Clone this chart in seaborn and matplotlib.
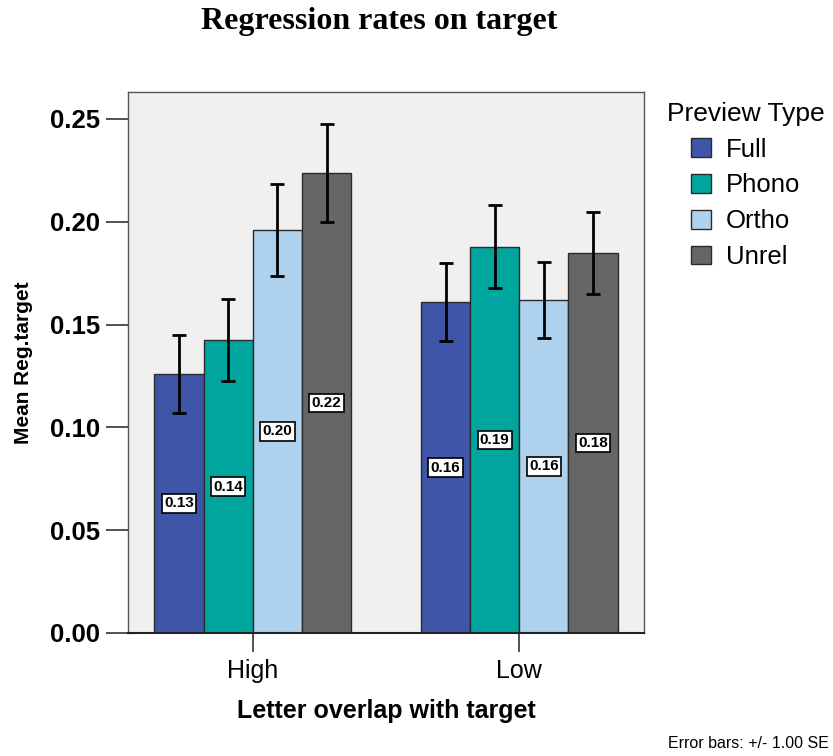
import matplotlib
matplotlib.use("Agg")
import matplotlib.pyplot as plt
import numpy as np
import pandas as pd
import seaborn as sns

overlap = ["High", "Low"]
preview = ["Full", "Phono", "Ortho", "Unrel"]

mean_high = [0.126, 0.1424, 0.1960, 0.2236]
mean_low = [0.1608, 0.1879, 0.1620, 0.1847]
se_high = [0.0190, 0.0199, 0.0222, 0.0238]
se_low = [0.0189, 0.0201, 0.0184, 0.0199]

colors = ["#3E55A8", "#00A59E", "#AED1EE", "#666666"]

df = pd.DataFrame({
    "overlap": ["High"] * 4 + ["Low"] * 4,
    "preview": preview * 2,
    "rate": mean_high + mean_low,
    "se": se_high + se_low,
})

sns.set_style("white")
plt.rcParams["font.family"] = ["Liberation Sans", "DejaVu Sans"]
plt.rcParams["text.color"] = "black"
plt.rcParams["axes.labelcolor"] = "black"
plt.rcParams["xtick.color"] = "black"
plt.rcParams["ytick.color"] = "black"

fig = plt.figure(figsize=(8.33, 7.56), dpi=100)
ax = fig.add_axes([0.1537, 0.1627, 0.6194, 0.7156])

sns.barplot(
    data=df,
    x="overlap",
    y="rate",
    hue="preview",
    order=overlap,
    hue_order=preview,
    palette=colors,
    errorbar=None,
    width=0.738,
    edgecolor="#2b2b2b",
    linewidth=1.0,
    saturation=1,
    ax=ax
)

# error bars and value boxes from the drawn bars
for lev, cont in zip(preview, ax.containers):
    for cat, bar in zip(overlap, cont.patches):
        row = df[(df["overlap"] == cat) & (df["preview"] == lev)].iloc[0]
        xc = bar.get_x() + bar.get_width() / 2
        h = bar.get_height()
        ax.errorbar(
            xc, h, yerr=row["se"],
            fmt="none", ecolor="black",
            elinewidth=2, capsize=5, capthick=2, zorder=5
        )
        ax.text(
            xc, h / 2, f"{h:.2f}",
            ha="center", va="center",
            fontsize=11, fontweight="bold", color="black",
            bbox=dict(boxstyle="square,pad=0.15", facecolor="white",
                      edgecolor="black", linewidth=1.2),
            zorder=6
        )

ax.set_facecolor("#F0F0F0")
ax.set_xlim(-0.468, 1.468)
ax.set_ylim(0, 0.2631)
ax.set_yticks([0.0, 0.05, 0.10, 0.15, 0.20, 0.25])
ax.set_yticklabels([f"{v:.2f}" for v in [0.0, 0.05, 0.10, 0.15, 0.20, 0.25]],
                   fontsize=18.5, fontweight="bold")
ax.tick_params(axis="y", length=16, width=1.2, color="#333333", pad=4,
               left=True, labelcolor="black")
ax.tick_params(axis="x", length=14, width=1.2, color="#333333", pad=5,
               labelsize=18, bottom=True, labelcolor="black")

for s in ax.spines.values():
    s.set_color("#555555")
    s.set_linewidth(1.0)
ax.spines["bottom"].set_color("#222222")
ax.spines["bottom"].set_linewidth(1.5)

ax.set_xlabel("Letter overlap with target", fontsize=18, fontweight="bold",
              labelpad=11, color="black")
ax.set_ylabel("Mean Reg.target", fontsize=15, fontweight="bold",
              labelpad=12, color="black")

sns.move_legend(
    ax, "upper left",
    bbox_to_anchor=(1.045, 0.982),
    title="Preview Type",
    frameon=False,
    fontsize=18.5,
    title_fontsize=19,
    handlelength=0.75,
    handleheight=0.75,
    handletextpad=0.6,
    labelspacing=0.46,
    borderpad=0,
    borderaxespad=0,
)
leg = ax.get_legend()
for h in leg.legend_handles:
    h.set_edgecolor("#2b2b2b")
    h.set_linewidth(1.0)
for t in leg.get_texts():
    t.set_color("black")
leg.get_title().set_color("black")

fig.text(379 / 833, 1 - 21 / 756, "Regression rates on target",
         ha="center", va="center", fontsize=23, fontweight="bold",
         color="black", family=["Liberation Serif", "DejaVu Serif"])
fig.text(668 / 833, 1 - 744 / 756, "Error bars: +/- 1.00 SE",
         ha="left", va="center", fontsize=11.5, color="black")

fig.savefig("out.png", dpi=100)
